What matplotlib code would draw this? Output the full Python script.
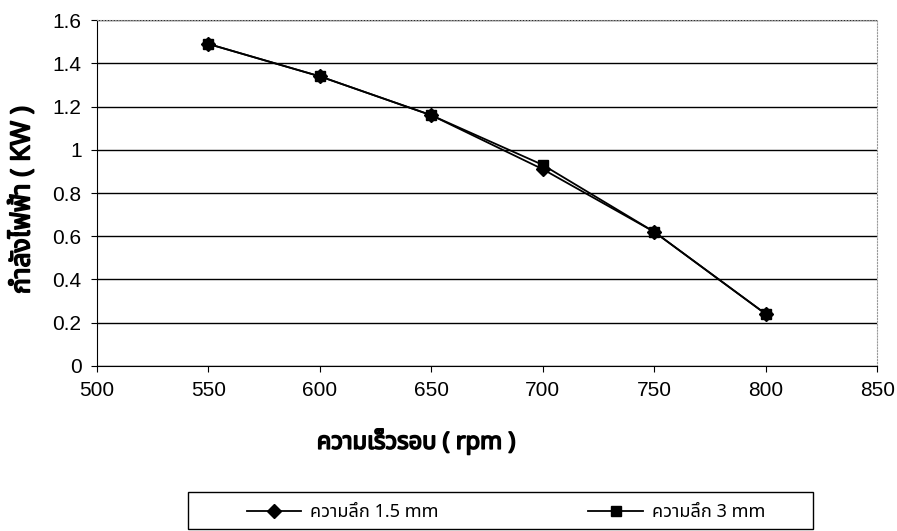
import matplotlib
matplotlib.use("Agg")
import matplotlib.pyplot as plt
import matplotlib.patheffects as pe
from matplotlib import font_manager
from matplotlib.ft2font import FT2Font
from matplotlib.patches import Rectangle

speed = [550, 600, 650, 700, 750, 800]
power_15mm = [1.49, 1.34, 1.16, 0.91, 0.62, 0.24]
power_3mm = [1.49, 1.34, 1.16, 0.93, 0.62, 0.24]

x_ticks = [500, 550, 600, 650, 700, 750, 800, 850]
y_ticks = [0, 0.2, 0.4, 0.6, 0.8, 1, 1.2, 1.4, 1.6]
y_tick_labels = ["0", "0.2", "0.4", "0.6", "0.8", "1", "1.2", "1.4", "1.6"]

x_label = "ความเร็วรอบ ( rpm )"
y_label = "กำลังไฟฟ้า ( KW )"
legend_labels = ["ความลึก 1.5 mm", "ความลึก 3 mm"]

PREFERRED = ["Noto Sans Thai", "Loma", "Garuda", "Waree", "Umpush",
             "Sawasdee", "Laksaman", "Kinnari", "Norasi", "Purisa"]


def find_thai_font():
    # any installed font that really has Thai glyphs, proportional ones first
    found = set()
    for path in font_manager.findSystemFonts():
        try:
            cmap = FT2Font(path).get_charmap()
        except Exception:
            continue
        if ord("ก") in cmap and ord("ฟ") in cmap:
            found.add(font_manager.FontProperties(fname=path).get_name())
    for name in PREFERRED:
        if name in found:
            return [name]
    rest = [n for n in sorted(found) if "mono" not in n.lower() and "typ" not in n.lower()]
    return rest[:1] or sorted(found)[:1]


families = ["Liberation Sans", "DejaVu Sans"]
thai = find_thai_font()
plt.rcParams["font.family"] = thai + families

fig = plt.figure(figsize=(8.97, 5.31), dpi=100)
ax = fig.add_axes([0.108, 0.311, 0.87, 0.651])

ax.plot(speed, power_15mm, color="black", lw=1.3, marker="D", ms=7, label=legend_labels[0])
ax.plot(speed, power_3mm, color="black", lw=1.3, marker="s", ms=7, label=legend_labels[1])

ax.set_xlim(500, 850)
ax.set_ylim(0, 1.6)
ax.set_xticks(x_ticks)
ax.set_yticks(y_ticks)
ax.set_yticklabels(y_tick_labels)
ax.tick_params(labelsize=15, length=4, color="black", pad=7)
for lab in ax.get_xticklabels() + ax.get_yticklabels():
    lab.set_family(families)

ax.grid(axis="y", color="black", lw=1)
ax.set_axisbelow(True)
ax.spines["left"].set_color("black")
ax.spines["bottom"].set_color("black")
for side in ("right", "top"):
    ax.spines[side].set_color("#999999")
    ax.spines[side].set_linestyle(":")

# no bold Thai face installed, so thicken the strokes instead
bold = [pe.withStroke(linewidth=1.2, foreground="black")]
fig.text(0.025, 0.623, y_label, rotation=90, ha="center", va="center",
         fontsize=19, fontweight="bold", path_effects=bold)
fig.text(0.464, 0.168, x_label, ha="center", va="center",
         fontsize=17, fontweight="bold", path_effects=bold)

# legend box drawn by hand so the padding matches the original
fig.patches.append(Rectangle((188 / 897, 2 / 531), 625 / 897, 37 / 531,
                             transform=fig.transFigure, fill=False,
                             edgecolor="black", lw=1))
handles, labels = ax.get_legend_handles_labels()
fig.legend(handles, labels, loc="center", ncol=2, mode="expand",
           bbox_to_anchor=(247 / 897, 19 / 531, 518 / 897, 0),
           fontsize=13, frameon=False, handlelength=3.0, handletextpad=0.5,
           borderpad=0, borderaxespad=0)

fig.savefig("out.png", dpi=100)
